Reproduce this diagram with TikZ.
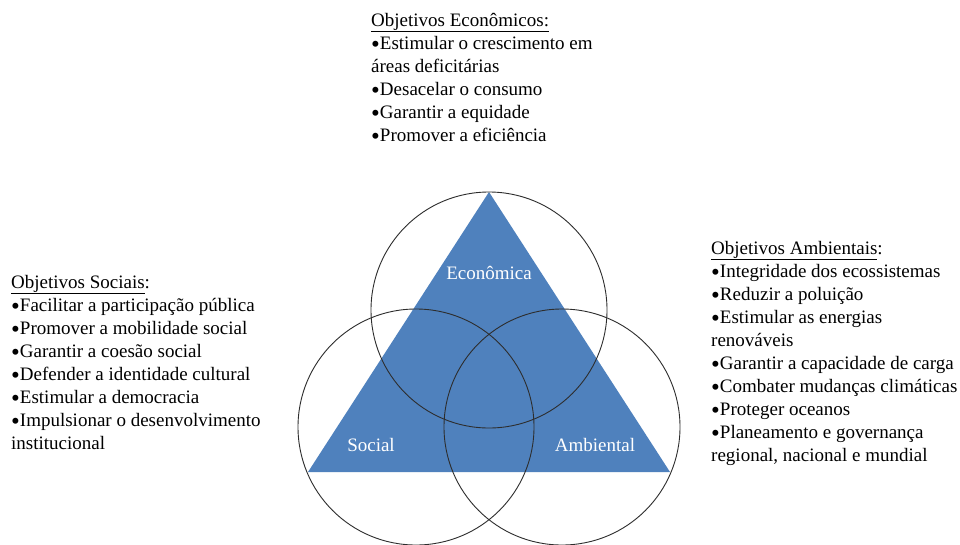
\documentclass[tikz,border=0pt]{standalone}
\usepackage{fontspec}
\setmainfont{Liberation Serif}
\definecolor{triblue}{RGB}{79,129,189}
\definecolor{ringgray}{RGB}{45,45,45}
\newcommand{\bul}{\raisebox{-3.6pt}{\fontsize{25}{23}\selectfont •}}
\tikzset{
  txtblock/.style={anchor=base west, inner sep=0pt, font=\fontsize{19}{23}\selectfont, text=black},
  tlabel/.style={anchor=base, inner sep=0pt, font=\fontsize{19}{23}\selectfont, text=white},
  ring/.style={draw=ringgray, line width=0.9pt},
}
\begin{document}
\begin{tikzpicture}[x=1pt,y=-1pt]
\useasboundingbox (0,0) rectangle (960,544);
\fill[white] (0,0) rectangle (960,544);
% triangle
\coordinate (apex) at (489,192);
\coordinate (bl) at (308,472);
\coordinate (br) at (670,472);
\fill[triblue] (apex) -- (bl) -- (br) -- cycle;
% circles
\coordinate (ce) at (489,310);
\coordinate (cs) at (416,427);
\coordinate (ca) at (562,427);
\draw[ring] (ce) circle[radius=118];
\draw[ring] (cs) circle[radius=118];
\draw[ring] (ca) circle[radius=118];
% labels
\node[tlabel] (leco) at (489,279) {Econômica};
\node[tlabel] (lsoc) at (371,451) {Social};
\node[tlabel] (lamb) at (595,451) {Ambiental};
% text blocks
\node[txtblock] (teco) at (371,26) {\begin{tabular}[t]{@{}l@{}}
\underline{Objetivos Econômicos:}\\
\bul Estimular o crescimento em\\
áreas deficitárias\\
\bul Desacelar o consumo\\
\bul Garantir a equidade\\
\bul Promover a eficiência
\end{tabular}};
\node[txtblock] (tsoc) at (11,288) {\begin{tabular}[t]{@{}l@{}}
\underline{Objetivos Sociais}:\\
\bul Facilitar a participação pública\\
\bul Promover a mobilidade social\\
\bul Garantir a coesão social\\
\bul Defender a identidade cultural\\
\bul Estimular a democracia\\
\bul Impulsionar o desenvolvimento\\
institucional
\end{tabular}};
\node[txtblock] (tamb) at (711,254) {\begin{tabular}[t]{@{}l@{}}
\underline{Objetivos Ambientais}:\\
\bul Integridade dos ecossistemas\\
\bul Reduzir a poluição\\
\bul Estimular as energias\\
renováveis\\
\bul Garantir a capacidade de carga\\
\bul Combater mudanças climáticas\\
\bul Proteger oceanos\\
\bul Planeamento e governança\\
regional, nacional e mundial
\end{tabular}};
\end{tikzpicture}
\end{document}
